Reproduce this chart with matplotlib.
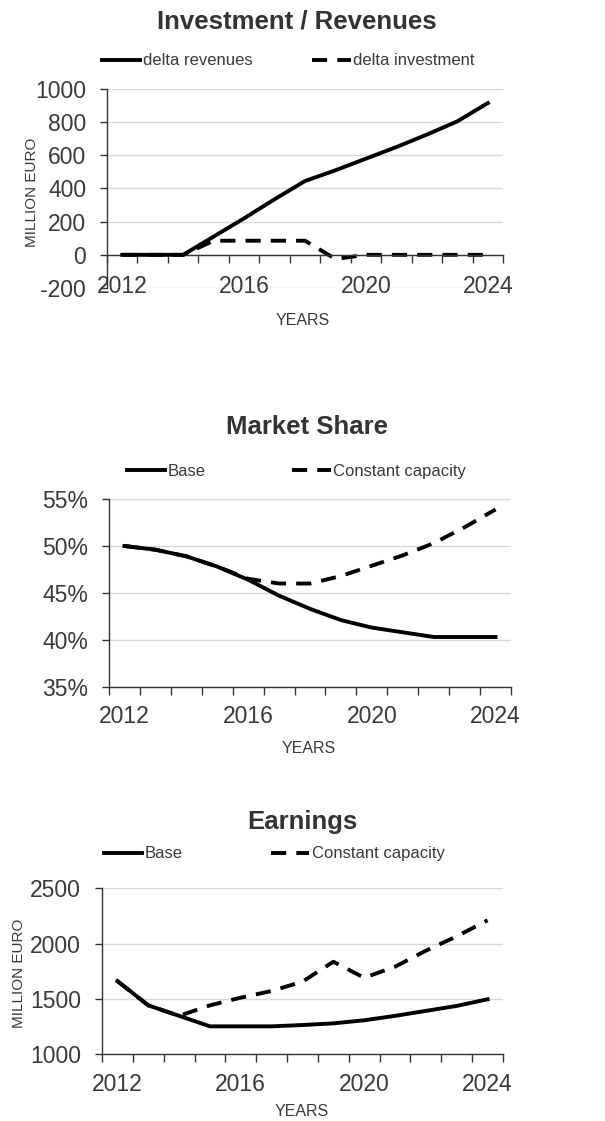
import numpy as np
import matplotlib
matplotlib.use('Agg')
from matplotlib import pyplot as plt

plt.rcParams['font.family'] = ['Liberation Sans', 'DejaVu Sans']

years = [2012, 2013, 2014, 2015, 2016, 2017, 2018, 2019, 2020, 2021, 2022, 2023, 2024]
year_labels = [2012, 2016, 2020, 2024]

# Investment / Revenues (million euro)
delta_revenues = [0, 0, 0, 110, 220, 335, 445, 510, 580, 650, 725, 805, 915]
delta_investment = [0, 0, 0, 85, 85, 85, 85, -25, 0, 0, 0, 0, 0]

# Market share (%)
share_base = [50.0, 49.6, 48.9, 47.8, 46.4, 44.7, 43.3, 42.1, 41.3, 40.8, 40.3, 40.3, 40.3]
share_constant = [50.0, 49.6, 48.9, 47.8, 46.5, 46.0, 46.0, 46.8, 47.9, 49.0, 50.3, 52.0, 53.9]

# Earnings (million euro)
earn_base = [1660, 1440, 1345, 1250, 1250, 1250, 1262, 1277, 1305, 1345, 1390, 1435, 1495]
earn_constant = [1660, 1440, 1345, 1440, 1510, 1570, 1655, 1835, 1690, 1790, 1935, 2065, 2210]

text_col = '#3a3a3a'
grid_col = '#d9d9d9'
lw = 2.8
dash = (3.9, 2.6)

fig = plt.figure(figsize=(6.05, 11.21), dpi=100)


def style_axes(ax, ylim, yticks, ylabels, xpad):
    ax.set_xlim(2011.5, 2024.5)
    ax.set_ylim(*ylim)
    ax.set_yticks(yticks)
    ax.set_yticklabels(ylabels)
    ax.set_xticks(year_labels)
    ax.set_xticks(np.arange(2011.5, 2025, 1), minor=True)
    ax.tick_params(axis='x', which='major', length=0, pad=xpad, labelsize=16.5, labelcolor=text_col)
    ax.tick_params(axis='x', which='minor', length=5.5, width=1, direction='out', color='#333333')
    ax.tick_params(axis='y', length=5, width=1, direction='out', pad=10, labelsize=16.5,
                   labelcolor=text_col, color='#333333')
    for s in ['top', 'right']:
        ax.spines[s].set_visible(False)
    for s in ['left', 'bottom']:
        ax.spines[s].set_color('#333333')
        ax.spines[s].set_linewidth(1.0)
    ax.yaxis.grid(True, color=grid_col, linewidth=1.0)
    ax.set_axisbelow(True)


def add_legend(ax, handles, labels, x, y, spacing):
    ax.legend(handles, labels, ncol=2, loc='center left', bbox_to_anchor=(x, y),
              bbox_transform=fig.transFigure, frameon=False, fontsize=12,
              labelcolor=text_col, handlelength=2.3, handletextpad=0.15,
              columnspacing=spacing, borderpad=0, borderaxespad=0)


# --- Investment / Revenues ---
ax1 = fig.add_axes([0.1769, 0.7431, 0.6545, 0.1775])
l1, = ax1.plot(years, delta_revenues, color='black', lw=lw, zorder=3)
l2, = ax1.plot(years, delta_investment, color='black', lw=lw, dashes=dash, zorder=2)
style_axes(ax1, (-200, 1000), range(-200, 1001, 200),
           [str(v) for v in range(-200, 1001, 200)], 14.5)
ax1.spines['bottom'].set_position(('data', 0))
ax1.set_ylabel('MILLION EURO', fontsize=11, color=text_col, va='center')
ax1.yaxis.set_label_coords(-0.189, 0.482)
ax1.set_xlabel('YEARS', fontsize=11.5, color=text_col, va='center')
ax1.xaxis.set_label_coords(0.495, -0.161)
add_legend(ax1, [l1, l2], ['delta revenues', 'delta investment'], 0.1686, 0.9456, 3.6)
fig.text(0.491, 0.9804, 'Investment / Revenues', ha='center', va='center',
         fontsize=18.5, fontweight='bold', color='#333333')

# --- Market Share ---
ax2 = fig.add_axes([0.1802, 0.3874, 0.6645, 0.1674])
m1, = ax2.plot(years, share_base, color='black', lw=lw, zorder=3)
m2, = ax2.plot(years, share_constant, color='black', lw=lw, dashes=dash, zorder=2)
style_axes(ax2, (35, 55), range(35, 56, 5), ['%d%%' % v for v in range(35, 56, 5)], 13)
ax2.set_xlabel('YEARS', fontsize=11.5, color=text_col, va='center')
ax2.xaxis.set_label_coords(0.4975, -0.327)
add_legend(ax2, [m1, m2], ['Base', 'Constant capacity'], 0.2099, 0.5798, 5.2)
fig.text(0.507, 0.619, 'Market Share', ha='center', va='center',
         fontsize=18.5, fontweight='bold', color='#333333')

# --- Earnings ---
ax3 = fig.add_axes([0.1686, 0.0598, 0.6628, 0.1478])
e1, = ax3.plot(years, earn_base, color='black', lw=lw, zorder=3)
e2, = ax3.plot(years, earn_constant, color='black', lw=lw, dashes=dash, zorder=2)
style_axes(ax3, (1000, 2500), range(1000, 2501, 500),
           [str(v) for v in range(1000, 2501, 500)], 13.5)
ax3.set_ylabel('MILLION EURO', fontsize=11, color=text_col, va='center')
ax3.yaxis.set_label_coords(-0.207, 0.489)
ax3.set_xlabel('YEARS', fontsize=11.5, color=text_col, va='center')
ax3.xaxis.set_label_coords(0.4988, -0.35)
add_legend(ax3, [e1, e2], ['Base', 'Constant capacity'], 0.1719, 0.2382, 5.3)
fig.text(0.499, 0.2667, 'Earnings', ha='center', va='center',
         fontsize=18.5, fontweight='bold', color='#333333')

fig.savefig('out.png', dpi=100)
